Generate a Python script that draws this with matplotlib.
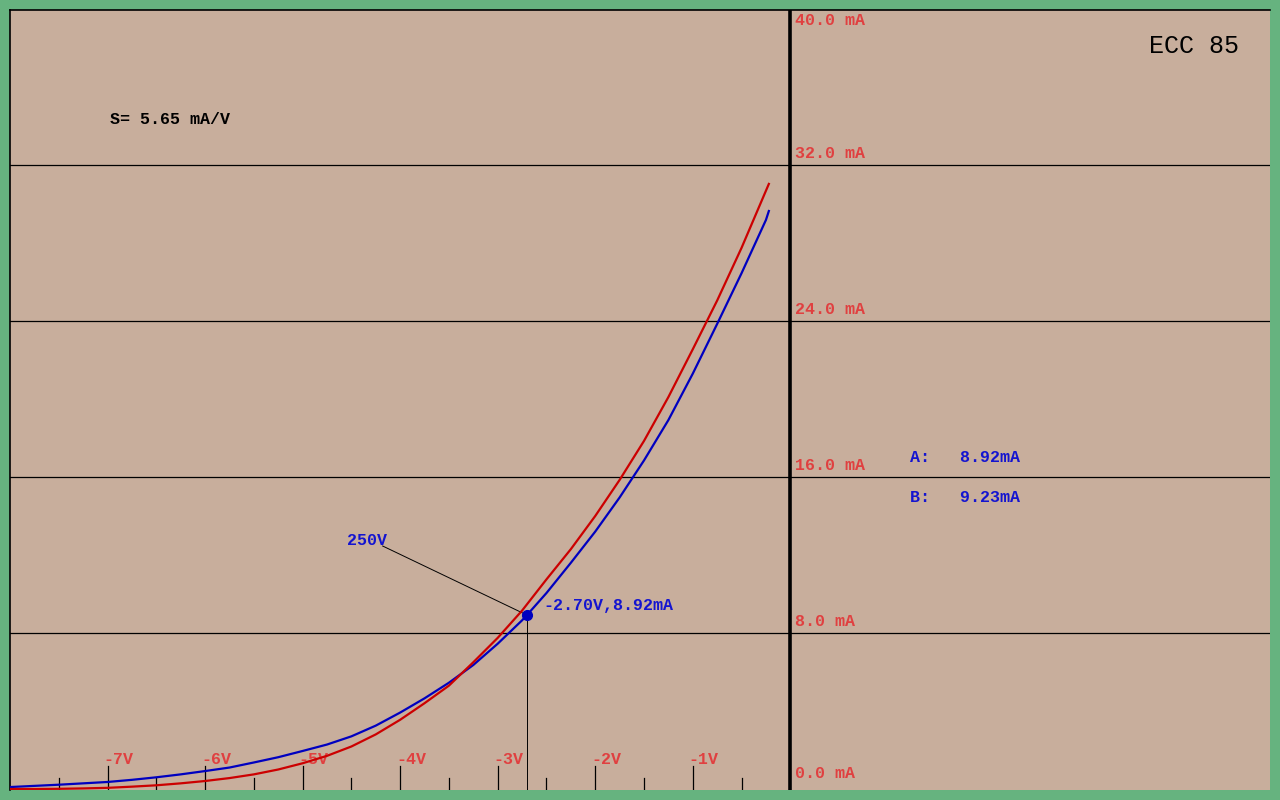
import matplotlib
matplotlib.use("Agg")
import matplotlib.pyplot as plt

# ---- data (grid voltage V, anode current mA) ----
red_v  = [-8.00, -7.75, -7.50, -7.25, -7.00, -6.75, -6.50, -6.25, -6.00, -5.75, -5.50, -5.25,
          -5.00, -4.75, -4.50, -4.25, -4.00, -3.75, -3.50, -3.25, -3.00, -2.75, -2.50, -2.25,
          -2.00, -1.75, -1.50, -1.25, -1.00, -0.75, -0.50, -0.22]
red_ma = [0.00, 0.00, 0.01, 0.03, 0.06, 0.12, 0.19, 0.29, 0.41, 0.56, 0.75, 1.00,
          1.32, 1.70, 2.18, 2.80, 3.55, 4.40, 5.30, 6.50, 7.75, 9.15, 10.75, 12.30,
          14.00, 15.85, 17.85, 20.10, 22.55, 25.05, 27.75, 31.03]
blue_v  = [-8.00, -7.75, -7.50, -7.25, -7.00, -6.75, -6.50, -6.25, -6.00, -5.75, -5.50, -5.25,
           -5.00, -4.75, -4.50, -4.25, -4.00, -3.75, -3.50, -3.25, -3.00, -2.75, -2.70, -2.50,
           -2.25, -2.00, -1.75, -1.50, -1.25, -1.00, -0.75, -0.50, -0.25, -0.22]
blue_ma = [0.10, 0.16, 0.22, 0.29, 0.36, 0.47, 0.60, 0.75, 0.92, 1.10, 1.36, 1.63,
           1.95, 2.28, 2.70, 3.25, 3.92, 4.65, 5.45, 6.36, 7.45, 8.65, 8.92, 10.05,
           11.60, 13.20, 14.95, 16.85, 18.92, 21.30, 23.85, 26.45, 29.18, 29.64]

y_grid = [8, 16, 24, 32]
y_labels = ["0.0 mA", "8.0 mA", "16.0 mA", "24.0 mA", "32.0 mA", "40.0 mA"]
y_label_vals = [0, 8, 16, 24, 32, 40]
x_major = [-7, -6, -5, -4, -3, -2, -1]
x_major_labels = ["-7V", "-6V", "-5V", "-4V", "-3V", "-2V", "-1V"]
x_minor = [-7.5, -6.5, -5.5, -4.5, -3.5, -2.5, -1.5, -0.5]

op_v, op_ma = -2.70, 8.92
title = "ECC 85"
slope_text = "S= 5.65 mA/V"
curve_label = "250V"
op_label = "-2.70V,8.92mA"
readA = "A:   8.92mA"
readB = "B:   9.23mA"

# ---- style ----
BG = "#C8AE9C"
GREEN = "#66B37F"
RED = "#CC0000"
BLUE = "#0000C0"
LRED = "#E04040"
TBLUE = "#1414D0"
MONO = "Liberation Mono"
FS = 12

fig = plt.figure(figsize=(12.8, 8.0), dpi=100, facecolor=GREEN)
ax = fig.add_axes([10/1280, 10/800, 1260/1280, 780/800])
ax.set_facecolor(BG)
xmin, xmax = -8.0, (1270 - 790.5) / 97.5
ymin, ymax = (789 - 790) / 19.5, (789 - 10) / 19.5
ax.set_xlim(xmin, xmax)
ax.set_ylim(ymin, ymax)
ax.set_xticks([]); ax.set_yticks([])
for s in ["right", "bottom"]:
    ax.spines[s].set_visible(False)
for s in ["left", "top"]:
    ax.spines[s].set_color("black")
    ax.spines[s].set_linewidth(1.2)

# grid lines
for g in y_grid:
    ax.axhline(g, color="black", lw=0.9, zorder=1)
# zero axis
ax.axvline(0, color="black", lw=2.6, zorder=3)

# y labels
for v, t in zip(y_label_vals, y_labels):
    off = 0.6 if v < 40 else -0.6
    if v == 0:
        off = 0.82
    ax.text(0.05, v + off, t, color=LRED, fontsize=FS, family=MONO,
            weight="bold", va="center", ha="left", zorder=4)

# x ticks
for v, t in zip(x_major, x_major_labels):
    ax.plot([v, v], [ymin, 1.2], color="black", lw=0.9, zorder=2)
    ax.text(v - 0.04, 1.49, t, color=LRED, fontsize=FS, family=MONO,
            weight="bold", va="center", ha="left", zorder=4)
for v in x_minor:
    ax.plot([v, v], [ymin, 0.56], color="black", lw=0.9, zorder=2)

# curves
ax.plot(blue_v, blue_ma, color=BLUE, lw=1.6, zorder=5, solid_joinstyle="round")
ax.plot(red_v, red_ma, color=RED, lw=1.6, zorder=5, solid_joinstyle="round")

# operating point
ax.plot([op_v, op_v], [ymin, op_ma], color="black", lw=0.7, zorder=4)
lab_v, lab_ma = (383 - 790.5) / 97.5, (789 - 546) / 19.5
ax.plot([lab_v, op_v], [lab_ma, op_ma], color="black", lw=0.7, zorder=4)
ax.plot([op_v], [op_ma], "o", color=BLUE, ms=7, zorder=6)
ax.text(lab_v - 0.37, lab_ma + 0.3, curve_label, color=TBLUE, fontsize=FS,
        family=MONO, weight="bold", va="center", ha="left", zorder=6)
ax.text(op_v + 0.17, op_ma + 0.5, op_label, color=TBLUE, fontsize=FS,
        family=MONO, weight="bold", va="center", ha="left", zorder=6)

# readouts
ax.text((910 - 790.5) / 97.5, (789 - 458) / 19.5, readA, color=TBLUE, fontsize=FS,
        family=MONO, weight="bold", va="center", ha="left")
ax.text((910 - 790.5) / 97.5, (789 - 498) / 19.5, readB, color=TBLUE, fontsize=FS,
        family=MONO, weight="bold", va="center", ha="left")

# texts
ax.text((110 - 790.5) / 97.5, (789 - 120) / 19.5, slope_text, color="black", fontsize=FS,
        family=MONO, weight="bold", va="center", ha="left")
ax.text((1239 - 790.5) / 97.5, (789 - 46) / 19.5, title, color="black", fontsize=18,
        family=MONO, va="center", ha="right")

fig.savefig("out.png", dpi=100, facecolor=GREEN)
